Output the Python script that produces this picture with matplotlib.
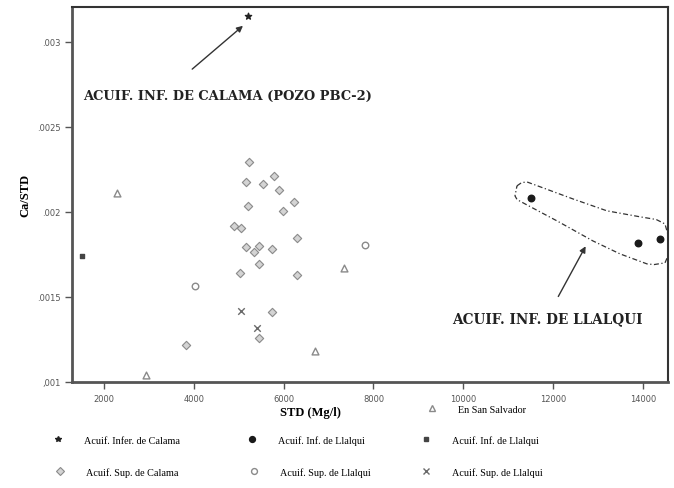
import numpy as np
import matplotlib.pyplot as plt
from matplotlib.lines import Line2D

# --- data (STD in mg/l, Ca/STD ratio) ---
inf_calama_x = [5207]
inf_calama_y = [0.003153]

inf_llalqui_dot_x = [11509, 13892, 14382]
inf_llalqui_dot_y = [0.002082, 0.001818, 0.001841]

inf_llalqui_sq_x = [1510]
inf_llalqui_sq_y = [0.001741]

sup_calama_x = [5229, 5162, 5541, 5786, 5897, 6231, 5986, 5207, 4895, 5051,
                6298, 5162, 5452, 5341, 5741, 5452, 5029, 6298, 5741, 5452, 3826]
sup_calama_y = [0.002294, 0.002176, 0.002165, 0.002212, 0.002129, 0.002059,
                0.002006, 0.002035, 0.001918, 0.001906, 0.001847, 0.001794,
                0.001800, 0.001765, 0.001782, 0.001694, 0.001641, 0.001629,
                0.001412, 0.001259, 0.001218]

sup_llalqui_o_x = [7812, 4027]
sup_llalqui_o_y = [0.001806, 0.001565]

sup_llalqui_x_x = [5051, 5407]
sup_llalqui_x_y = [0.001418, 0.001318]

salvador_x = [2290, 2935, 6699, 7345]
salvador_y = [0.002112, 0.001041, 0.001183, 0.001671]

# dashed outline around the Llalqui lower aquifer group
loop_x = [11197, 11300, 11420, 12445, 13202, 13937, 14300, 14494, 14605, 14560,
          14494, 14250, 14093, 13491, 12890, 12088, 11710, 11376, 11200, 11153, 11197]
loop_y = [0.002153, 0.002172, 0.002176, 0.002076, 0.002006, 0.001971, 0.001955,
          0.001929, 0.001824, 0.001740, 0.001700, 0.001690, 0.001694, 0.001753,
          0.001829, 0.001947, 0.002000, 0.002047, 0.002072, 0.002094, 0.002153]

xticks = [2000, 4000, 6000, 8000, 10000, 12000, 14000]
yticks = [0.001, 0.0015, 0.002, 0.0025, 0.003]
ytick_labels = [",001", ".0015", ".002", ".0025", ".003"]

serif = ['Liberation Serif', 'DejaVu Serif']
wide_serif = ['DejaVu Serif']

fig = plt.figure(figsize=(6.74, 4.89), dpi=100)
ax = fig.add_axes([0.107, 0.217, 0.884, 0.767])

styles = {
    'sup_calama': dict(marker='D', s=18, facecolors='#d4d4d4', edgecolors='#8a8a8a', linewidths=0.8),
    'sup_llalqui_o': dict(marker='o', s=22, facecolors='white', edgecolors='#8a8a8a', linewidths=1.0),
    'sup_llalqui_x': dict(marker='x', s=22, c='#6a6a6a', linewidths=1.0),
    'salvador': dict(marker='^', s=24, facecolors='white', edgecolors='#8a8a8a', linewidths=1.0),
    'inf_calama': dict(marker='*', s=22, c='#222222'),
    'inf_llalqui_dot': dict(marker='o', s=22, c='#1a1a1a'),
    'inf_llalqui_sq': dict(marker='s', s=12, c='#444444'),
}

ax.scatter(sup_calama_x, sup_calama_y, **styles['sup_calama'])
ax.scatter(sup_llalqui_o_x, sup_llalqui_o_y, **styles['sup_llalqui_o'])
ax.scatter(sup_llalqui_x_x, sup_llalqui_x_y, **styles['sup_llalqui_x'])
ax.scatter(salvador_x, salvador_y, **styles['salvador'])
ax.scatter(inf_calama_x, inf_calama_y, **styles['inf_calama'])
ax.scatter(inf_llalqui_dot_x, inf_llalqui_dot_y, **styles['inf_llalqui_dot'])
ax.scatter(inf_llalqui_sq_x, inf_llalqui_sq_y, **styles['inf_llalqui_sq'])

ax.plot(loop_x, loop_y, color='#333333', lw=0.9, ls=(0, (4, 2, 1, 2)))

ax.set_xlim(1287, 14560)
ax.set_ylim(0.001, 0.003206)
ax.set_xticks(xticks)
ax.set_xticklabels([str(v) for v in xticks])
ax.set_yticks(yticks)
ax.set_yticklabels(ytick_labels)
ax.tick_params(direction='out', length=5, width=1, color='#555555',
               labelsize=6, labelcolor='#555555')
for side in ['left', 'bottom']:
    ax.spines[side].set_linewidth(2)
    ax.spines[side].set_color('#555555')
for side in ['top', 'right']:
    ax.spines[side].set_linewidth(1.5)
    ax.spines[side].set_color('#333333')

ax.set_ylabel('Ca/STD', family=serif, fontweight='bold', fontsize=9, labelpad=4)
ax.set_xlabel('STD (Mg/l)', family=serif, fontweight='bold', fontsize=9, labelpad=2)
ax.xaxis.set_label_coords(0.40, -0.065)

# annotations
ax.annotate('', xy=(5140, 0.003105), xytext=(3915, 0.002829),
            arrowprops=dict(arrowstyle='-|>', color='#333333', lw=1, mutation_scale=9))
ax.text(1532, 0.002682, 'ACUIF. INF. DE CALAMA (POZO PBC-2)', family=wide_serif,
        fontweight='bold', fontsize=9.4, va='center', color='#222222')
ax.annotate('', xy=(12756, 0.001812), xytext=(12088, 0.001488),
            arrowprops=dict(arrowstyle='-|>', color='#333333', lw=1, mutation_scale=9))
ax.text(9750, 0.001377, 'ACUIF. INF. DE LLALQUI', family=wide_serif,
        fontweight='bold', fontsize=9.8, va='center', color='#222222')

# legend entries, laid out like the original key below the axis
def key(style, label, px, py):
    st = dict(style)
    h = Line2D([], [], ls='none', marker=st['marker'],
               markersize=np.sqrt(st['s']) * 0.9,
               markerfacecolor=st.get('facecolors', st.get('c')),
               markeredgecolor=st.get('edgecolors', st.get('c')),
               markeredgewidth=st.get('linewidths', 1.0))
    fig.legend(handles=[h], labels=[label], loc='center left',
               bbox_to_anchor=(px / 674, 1 - py / 489), frameon=False,
               handlelength=0.8, handletextpad=2.2, borderaxespad=0,
               prop=dict(family=serif, size=7.3))

key(styles['salvador'], 'En San Salvador', 424, 410)
key(styles['inf_calama'], 'Acuif. Infer. de Calama', 50, 441)
key(styles['inf_llalqui_dot'], 'Acuif. Inf. de Llalqui', 244, 441)
key(styles['inf_llalqui_sq'], 'Acuif. Inf. de Llalqui', 418, 441)
key(styles['sup_calama'], 'Acuif. Sup. de Calama', 52, 473)
key(styles['sup_llalqui_o'], 'Acuif. Sup. de Llalqui', 246, 473)
key(styles['sup_llalqui_x'], 'Acuif. Sup. de Llalqui', 418, 473)

fig.savefig('out.png', dpi=100)
